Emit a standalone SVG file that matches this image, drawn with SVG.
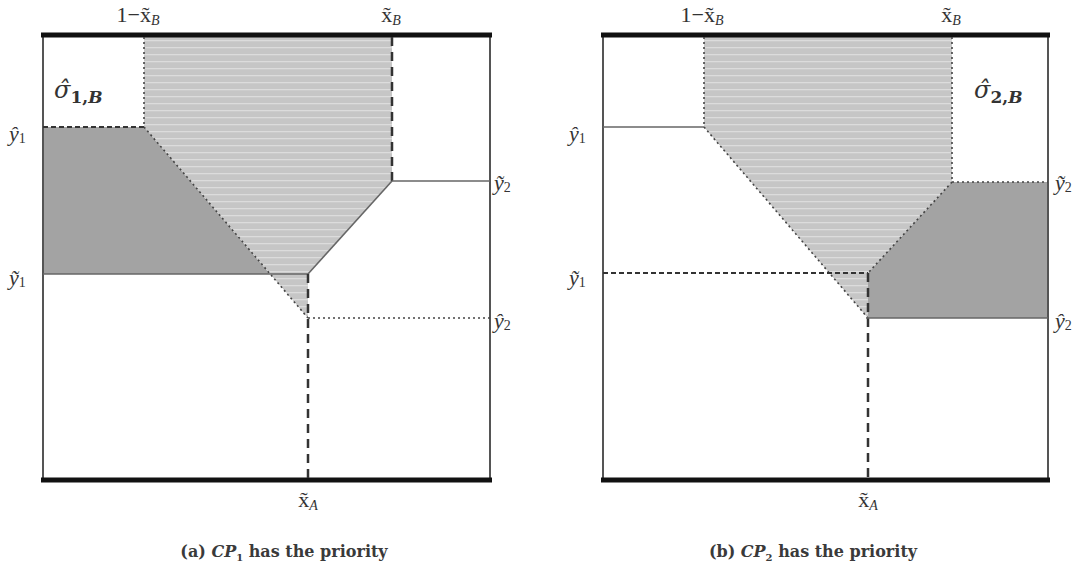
<svg xmlns="http://www.w3.org/2000/svg" width="1092" height="573" viewBox="0 0 1092 573">
<style>
.lbl{font-family:"Liberation Serif","DejaVu Serif",serif;font-size:22px;fill:#333}
.sub{font-size:14px}
.it{font-style:italic}
.sig{font-family:"DejaVu Serif","Liberation Serif",serif;font-size:24px;font-style:italic;fill:#333}
.cap{font-family:"DejaVu Serif","Liberation Serif",serif;font-size:16px;font-weight:bold;fill:#3a3a3a}
.bar{stroke:#111;stroke-width:5}
.side{stroke:#555;stroke-width:2}
.solid{stroke:#666;stroke-width:1.6;fill:none}
.dash{stroke:#333;stroke-width:2.5;stroke-dasharray:9 6;fill:none}
.sdash{stroke:#333;stroke-width:2;stroke-dasharray:5 3;fill:none}
.dot{stroke:#444;stroke-width:1.6;stroke-dasharray:2 3;fill:none}
.dark{fill:#a3a3a3}
.light{fill:url(#hatch)}
</style>
<defs>
<pattern id="hatch" patternUnits="userSpaceOnUse" width="8" height="7">
<rect width="8" height="7" fill="#c6c6c6"/>
<rect y="5" width="8" height="1.3" fill="#dcdcdc"/>
</pattern>
</defs>

<g id="panel-a">
<g id="a-regions">
<polygon class="light" points="144,37 392,37 392,181 308,274 308,318 144,127"/>
<polygon class="dark" points="43,127 144,127 270,274 43,274"/>
</g>
<g id="a-frame">
<line class="side" x1="43" y1="35" x2="43" y2="480"/>
<line class="side" x1="490" y1="35" x2="490" y2="480"/>
<line class="bar" x1="41" y1="35" x2="492" y2="35"/>
<line class="bar" x1="41" y1="480" x2="492" y2="480"/>
</g>
<g id="a-connectors">
<line class="dot" x1="144" y1="37" x2="144" y2="127"/>
<line class="sdash" x1="43" y1="127" x2="144" y2="127"/>
<line class="dot" x1="144" y1="127" x2="308" y2="318"/>
<line class="dash" x1="392" y1="37" x2="392" y2="181"/>
<line class="solid" x1="392" y1="181" x2="490" y2="181"/>
<line class="solid" x1="392" y1="181" x2="308" y2="274"/>
<line class="solid" x1="43" y1="274" x2="308" y2="274"/>
<line class="dash" x1="308" y1="274" x2="308" y2="478"/>
<line class="dot" x1="308" y1="318" x2="490" y2="318"/>
</g>
<g id="a-labels">
<text class="lbl" x="138" y="22" text-anchor="middle">1−<tspan>x̃</tspan><tspan class="sub it" dy="3">B</tspan></text>
<text class="lbl" x="391" y="22" text-anchor="middle">x̃<tspan class="sub it" dy="3">B</tspan></text>
<text class="sig" x="54" y="98">σ̂<tspan dy="5" font-size="17" font-weight="bold" font-style="normal">1,</tspan><tspan font-size="17" font-weight="bold">B</tspan></text>
<text class="lbl it" x="9" y="141">ŷ<tspan class="sub" font-style="normal" dy="2">1</tspan></text>
<text class="lbl it" x="9" y="285">ỹ<tspan class="sub" font-style="normal" dy="2">1</tspan></text>
<text class="lbl it" x="494" y="190">ỹ<tspan class="sub" font-style="normal" dy="2">2</tspan></text>
<text class="lbl it" x="494" y="328">ŷ<tspan class="sub" font-style="normal" dy="2">2</tspan></text>
<text class="lbl" x="308" y="507" text-anchor="middle">x̃<tspan class="sub it" dy="3">A</tspan></text>
<text class="cap" x="284" y="557" text-anchor="middle">(a) <tspan font-style="italic">CP</tspan><tspan font-size="10" dy="4">1</tspan><tspan dy="-4"> has the priority</tspan></text>
</g>
</g>

<g id="panel-b">
<g id="b-regions">
<polygon class="light" points="704,37 952,37 952,182 868,273 868,318 704,127"/>
<polygon class="dark" points="952,182 1048,182 1048,318 868,318 868,273"/>
</g>
<g id="b-frame">
<line class="side" x1="603" y1="35" x2="603" y2="480"/>
<line class="side" x1="1048" y1="35" x2="1048" y2="480"/>
<line class="bar" x1="601" y1="35" x2="1050" y2="35"/>
<line class="bar" x1="601" y1="480" x2="1050" y2="480"/>
</g>
<g id="b-connectors">
<line class="dot" x1="704" y1="37" x2="704" y2="127"/>
<line class="solid" x1="603" y1="127" x2="704" y2="127"/>
<line class="dot" x1="704" y1="127" x2="868" y2="318"/>
<line class="dot" x1="952" y1="37" x2="952" y2="182"/>
<line class="dot" x1="952" y1="182" x2="1048" y2="182"/>
<line class="dot" x1="952" y1="182" x2="868" y2="273"/>
<line class="sdash" x1="603" y1="273" x2="868" y2="273"/>
<line class="dash" x1="868" y1="273" x2="868" y2="478"/>
<line class="solid" x1="866" y1="318" x2="1048" y2="318"/>
</g>
<g id="b-labels">
<text class="lbl" x="702" y="22" text-anchor="middle">1−<tspan>x̃</tspan><tspan class="sub it" dy="3">B</tspan></text>
<text class="lbl" x="951" y="22" text-anchor="middle">x̃<tspan class="sub it" dy="3">B</tspan></text>
<text class="sig" x="974" y="98">σ̂<tspan dy="5" font-size="17" font-weight="bold" font-style="normal">2,</tspan><tspan font-size="17" font-weight="bold">B</tspan></text>
<text class="lbl it" x="569" y="141">ŷ<tspan class="sub" font-style="normal" dy="2">1</tspan></text>
<text class="lbl it" x="569" y="285">ỹ<tspan class="sub" font-style="normal" dy="2">1</tspan></text>
<text class="lbl it" x="1055" y="190">ỹ<tspan class="sub" font-style="normal" dy="2">2</tspan></text>
<text class="lbl it" x="1055" y="328">ŷ<tspan class="sub" font-style="normal" dy="2">2</tspan></text>
<text class="lbl" x="868" y="507" text-anchor="middle">x̃<tspan class="sub it" dy="3">A</tspan></text>
<text class="cap" x="813" y="557" text-anchor="middle">(b) <tspan font-style="italic">CP</tspan><tspan font-size="10" dy="4">2</tspan><tspan dy="-4"> has the priority</tspan></text>
</g>
</g>
</svg>
